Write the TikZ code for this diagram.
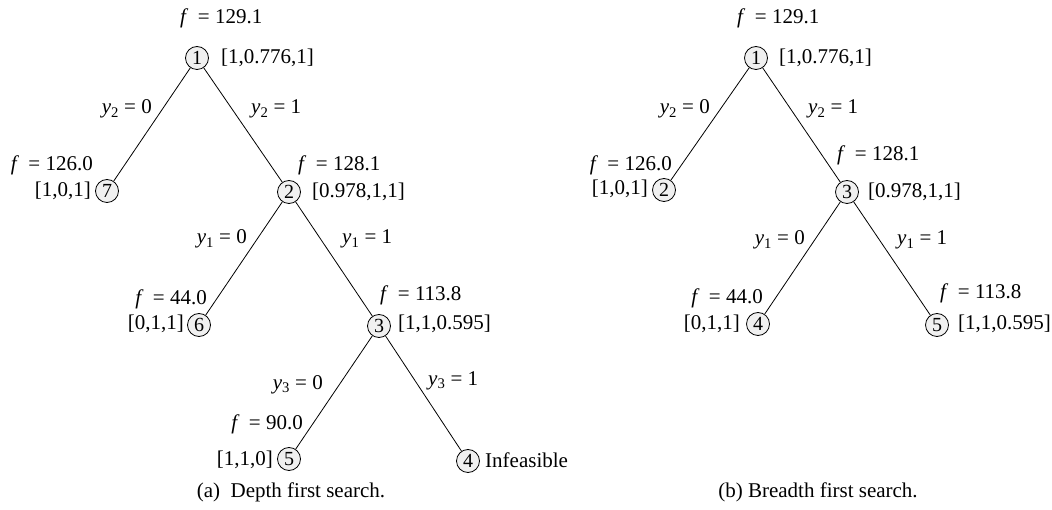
\documentclass[tikz,border=0pt]{standalone}
\usepackage{fontspec}
\setmainfont{LiberationSerif}[Extension=.ttf,UprightFont=*-Regular,ItalicFont=*-Italic,BoldFont=*-Bold,BoldItalicFont=*-BoldItalic]
\newcommand{\fval}[1]{\textit{f}\hspace{0.45em}=\hspace{0.25em}#1}
\newcommand{\yval}[2]{\textit{y}\textsubscript{#1} = #2}
\begin{document}
\begin{tikzpicture}[x=1pt,y=-1pt,
  nd/.style={circle,draw,fill=gray!12,minimum size=23pt,inner sep=0pt,line width=0.8pt,font=\fontsize{20}{24}\selectfont},
  lb/.style={inner sep=0pt,text height=14pt,text depth=4pt,font=\fontsize{21}{25}\selectfont},
  edge/.style={line width=0.8pt}]
\useasboundingbox (0,0) rectangle (1052,510);
% ---------- left tree ----------
\node[nd] (L1) at (197,58) {1};
\node[nd] (L7) at (107,191) {7};
\node[nd] (L2) at (289,192) {2};
\node[nd] (L6) at (199,325) {6};
\node[nd] (L3) at (379,326) {3};
\node[nd] (L5) at (289,459) {5};
\node[nd] (L4) at (468,461) {4};
\draw[edge] (L1) -- (L7);
\draw[edge] (L1) -- (L2);
\draw[edge] (L2) -- (L6);
\draw[edge] (L2) -- (L3);
\draw[edge] (L3) -- (L5);
\draw[edge] (L3) -- (L4);
\node[lb,anchor=west] (la1) at (180,19) {\fval{129.1}};
\node[lb,anchor=west] (la2) at (221,59) {[1,0.776,1]};
\node[lb,anchor=east] (la3) at (152,109) {\yval{2}{0}};
\node[lb,anchor=west] (la4) at (251,109) {\yval{2}{1}};
\node[lb,anchor=east] (la5) at (93,166) {\fval{126.0}};
\node[lb,anchor=east] (la6) at (91,192) {[1,0,1]};
\node[lb,anchor=west] (la7) at (298,166) {\fval{128.1}};
\node[lb,anchor=west] (la8) at (312,193) {[0.978,1,1]};
\node[lb,anchor=east] (la9) at (247,239) {\yval{1}{0}};
\node[lb,anchor=west] (la10) at (342,239) {\yval{1}{1}};
\node[lb,anchor=east] (la11) at (207,300) {\fval{44.0}};
\node[lb,anchor=east] (la12) at (184,325) {[0,1,1]};
\node[lb,anchor=west] (la13) at (380,296) {\fval{113.8}};
\node[lb,anchor=west] (la14) at (398,325) {[1,1,0.595]};
\node[lb,anchor=east] (la15) at (323,384) {\yval{3}{0}};
\node[lb,anchor=west] (la16) at (428,380) {\yval{3}{1}};
\node[lb,anchor=east] (la17) at (303,424) {\fval{90.0}};
\node[lb,anchor=east] (la18) at (273,460) {[1,1,0]};
\node[lb,anchor=west] (la19) at (485,462) {Infeasible};
\node[lb] (capa) at (291,492) {(a)\hspace{0.5em}Depth first search.};
% ---------- right tree ----------
\node[nd] (R1) at (756,58) {1};
\node[nd] (R2) at (664,190) {2};
\node[nd] (R3) at (847,192) {3};
\node[nd] (R4) at (758,324) {4};
\node[nd] (R5) at (937,325) {5};
\draw[edge] (R1) -- (R2);
\draw[edge] (R1) -- (R3);
\draw[edge] (R3) -- (R4);
\draw[edge] (R3) -- (R5);
\node[lb,anchor=west] (rb1) at (737,19) {\fval{129.1}};
\node[lb,anchor=west] (rb2) at (779,59) {[1,0.776,1]};
\node[lb,anchor=east] (rb3) at (710,109) {\yval{2}{0}};
\node[lb,anchor=west] (rb4) at (808,109) {\yval{2}{1}};
\node[lb,anchor=east] (rb5) at (672,166) {\fval{126.0}};
\node[lb,anchor=east] (rb6) at (648,190) {[1,0,1]};
\node[lb,anchor=west] (rb7) at (837,156) {\fval{128.1}};
\node[lb,anchor=west] (rb8) at (868,193) {[0.978,1,1]};
\node[lb,anchor=east] (rb9) at (805,240) {\yval{1}{0}};
\node[lb,anchor=west] (rb10) at (897,240) {\yval{1}{1}};
\node[lb,anchor=east] (rb11) at (763,299) {\fval{44.0}};
\node[lb,anchor=east] (rb12) at (740,325) {[0,1,1]};
\node[lb,anchor=west] (rb13) at (940,294) {\fval{113.8}};
\node[lb,anchor=west] (rb14) at (958,325) {[1,1,0.595]};
\node[lb] (capb) at (818,492) {(b) Breadth first search.};
\end{tikzpicture}
\end{document}
